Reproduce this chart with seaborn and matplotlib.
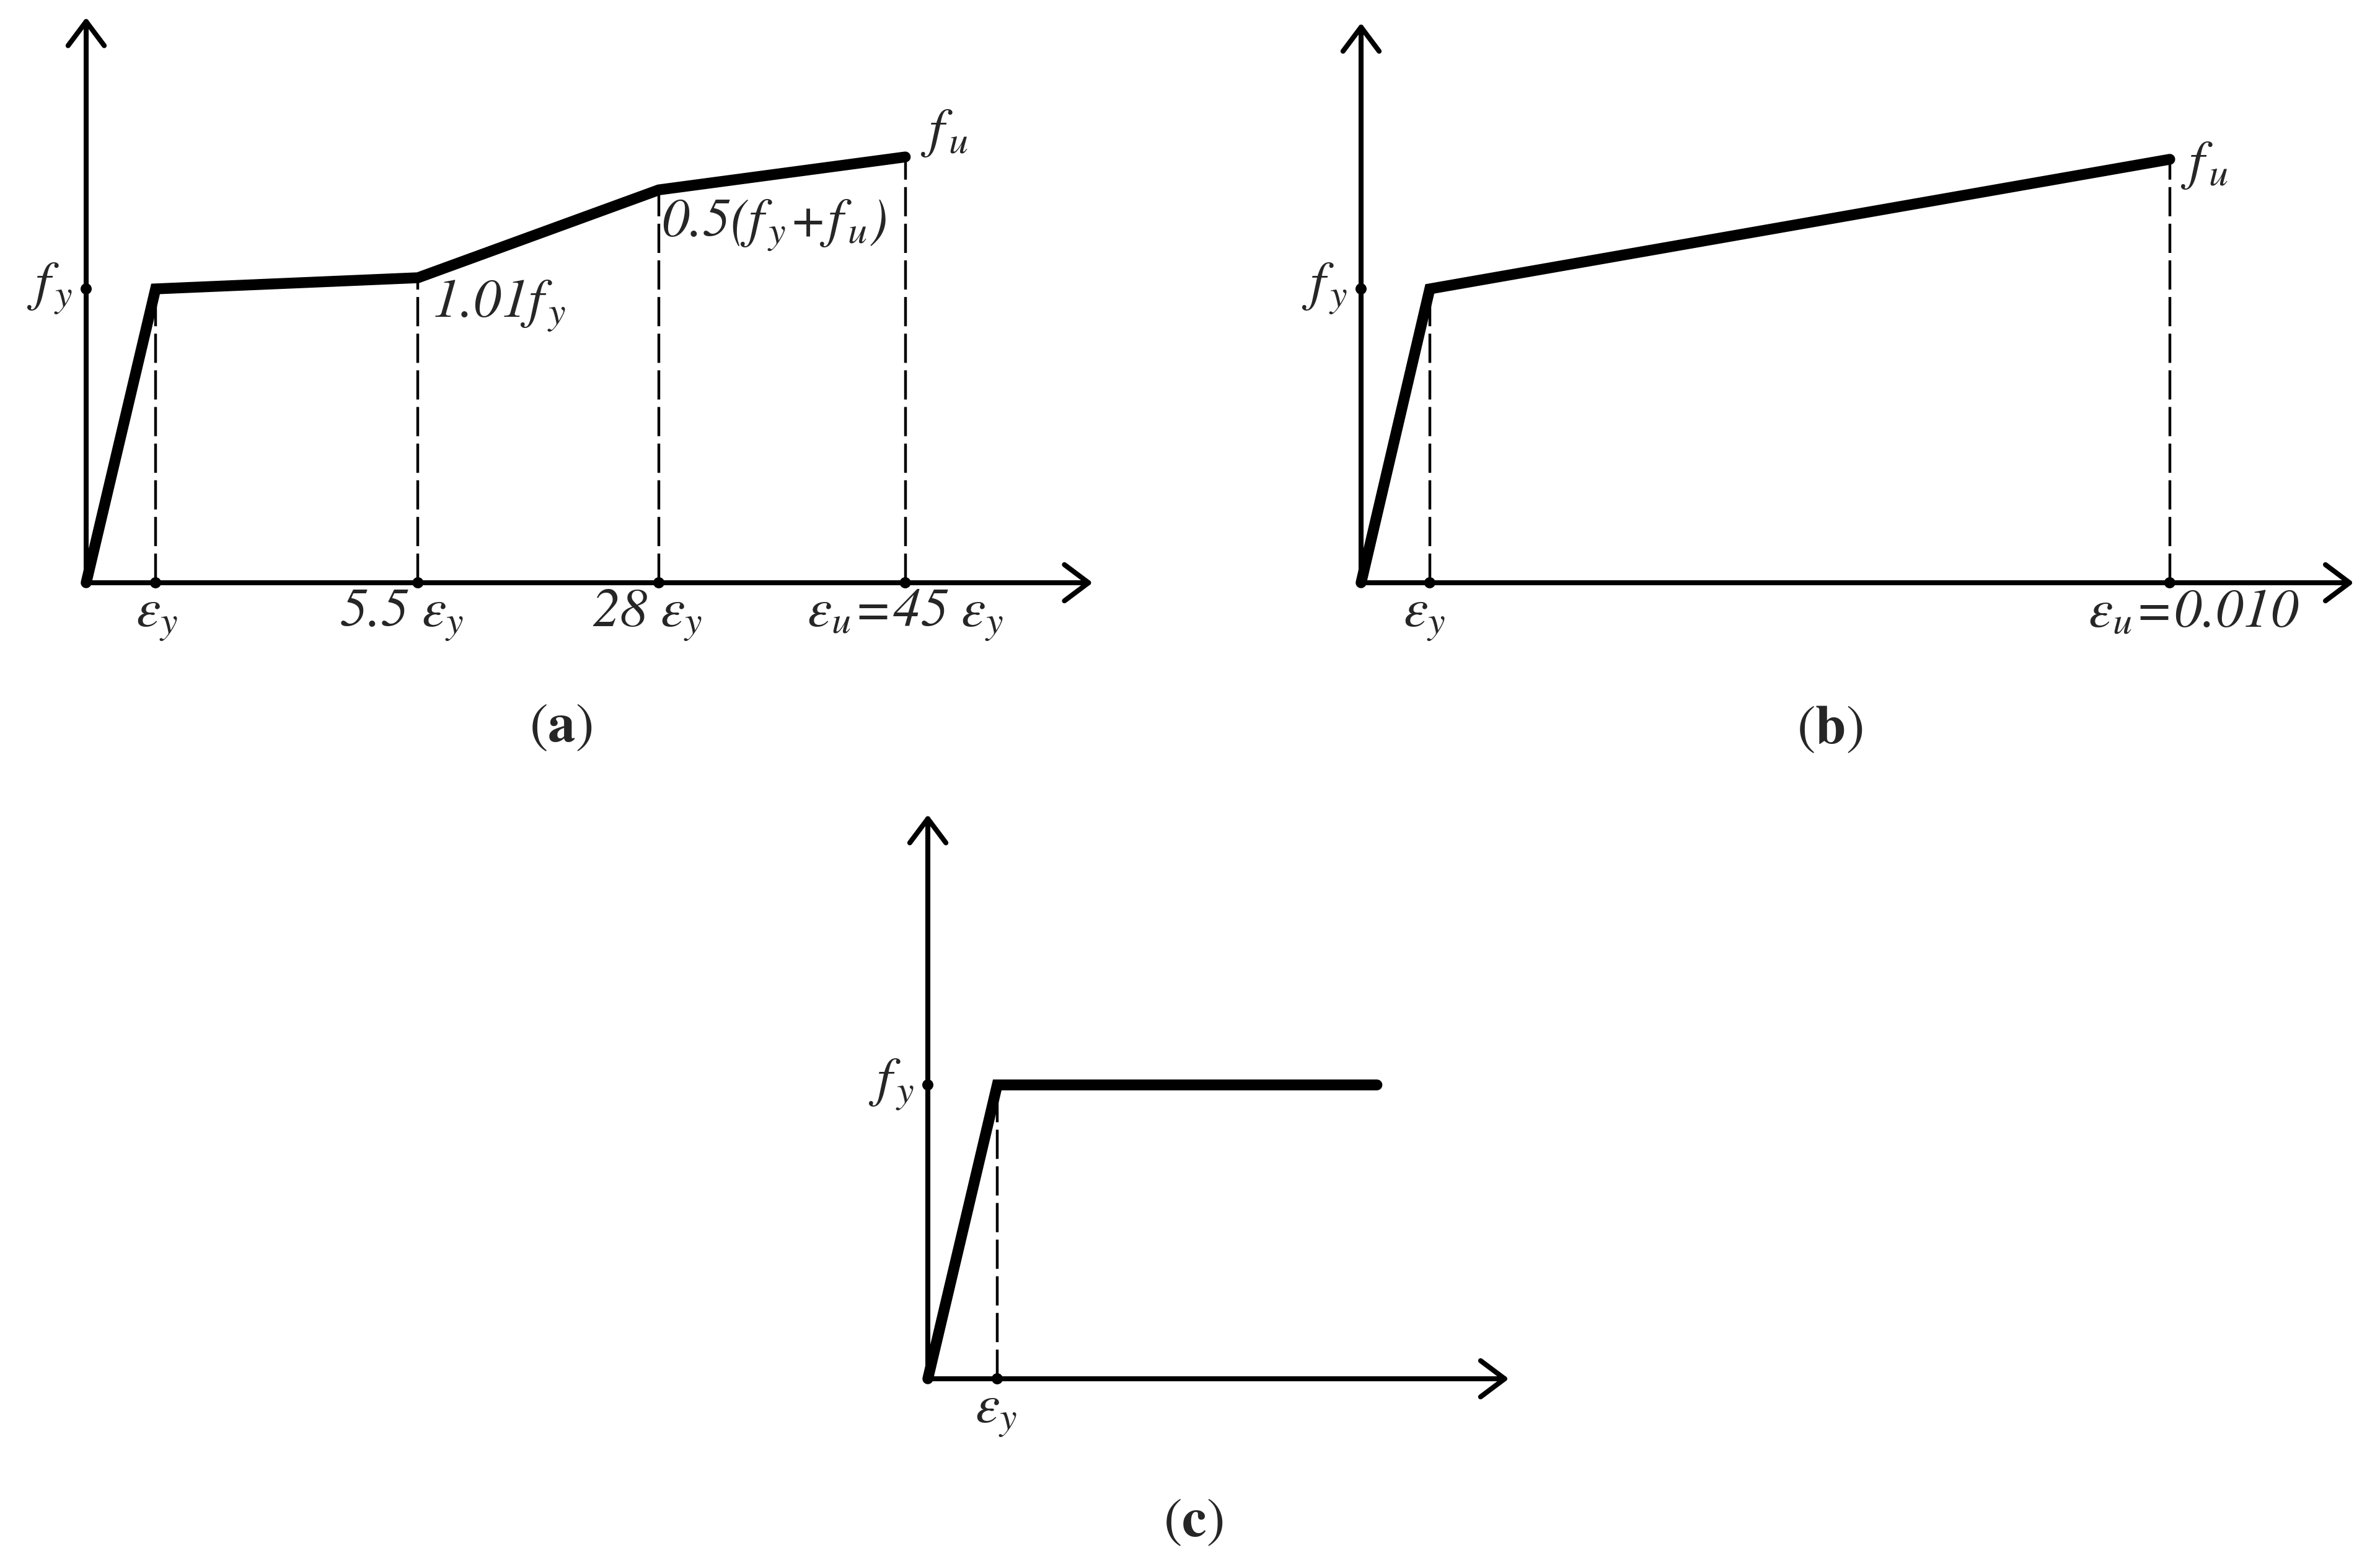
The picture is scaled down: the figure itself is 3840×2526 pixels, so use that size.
import matplotlib
matplotlib.use('Agg')
import matplotlib.pyplot as plt
import seaborn as sns

# schematic coordinates:
# strain in units of the eps_y spacing, stress in units of f_y
strain_a = [0, 1.0, 4.78, 8.25, 11.8]
stress_a = [0, 1.0, 1.038, 1.337, 1.449]
xlabels_a = [r'$\varepsilon_y$', r'$5.5\ \varepsilon_y$', r'$28\ \varepsilon_y$',
             r'$\varepsilon_u\!=\!45\ \varepsilon_y$']
ptlabels_a = [r'$1.01f_{\,y}$', r'$0.5(f_{\,y}\!+\!f_{\,u})$', r'$f_{\,u}$']

strain_b = [0, 0.99, 11.65]
stress_b = [0, 1.0, 1.441]
xlabels_b = [r'$\varepsilon_y$', r'$\varepsilon_u\!=\!0.010$']
ptlabels_b = [r'$f_{\,u}$']

strain_c = [0, 1.0, 6.47]
stress_c = [0, 1.0, 1.0]
xlabels_c = [r'$\varepsilon_y$']

ylabel = r'$f_{\,y}$'
panel_tags = ['a', 'b', 'c']

sns.set_style('white')
plt.rcParams['font.family'] = ['STIXGeneral', 'Liberation Serif', 'DejaVu Serif']
plt.rcParams['mathtext.fontset'] = 'custom'
plt.rcParams['mathtext.it'] = 'STIXGeneral:italic'
plt.rcParams['mathtext.rm'] = 'STIXGeneral:italic'
plt.rcParams['mathtext.bf'] = 'STIXGeneral:bold'

W, H, DPI = 3841, 2526, 200
SX, SY = 112, 474  # pixels per unit
FS = 32

fig = plt.figure(figsize=(W / DPI, H / DPI), dpi=DPI)


def panel_axes(ox, oy, xlim, ylim):
    left = (ox + xlim[0] * SX) / W
    bottom = (H - oy + ylim[0] * SY) / H
    ax = fig.add_axes([left, bottom, (xlim[1] - xlim[0]) * SX / W,
                       (ylim[1] - ylim[0]) * SY / H])
    ax.set_xlim(*xlim)
    ax.set_ylim(*ylim)
    ax.axis('off')
    return ax


def draw_panel(ax, strain, stress, marked, x_end, y_end):
    arrow = dict(arrowstyle='->,head_length=14,head_width=10.5', lw=2.9,
                 color='black', mutation_scale=1, shrinkA=0, shrinkB=0,
                 capstyle='round', joinstyle='round')
    ax.annotate('', xy=(x_end, 0), xytext=(0, 0), arrowprops=arrow)
    ax.annotate('', xy=(0, y_end), xytext=(0, 0), arrowprops=arrow)
    for i in marked:
        ax.plot([strain[i], strain[i]], [0, stress[i]], color='black', lw=1.6,
                linestyle=(0, (10.6, 2.7)), zorder=1)
    sns.lineplot(x=strain, y=stress, ax=ax, color='black', lw=6.3,
                 sort=False, estimator=None, zorder=3,
                 solid_capstyle='round', solid_joinstyle='miter')
    ticks = [strain[i] for i in marked]
    sns.scatterplot(x=ticks, y=[0] * len(ticks), ax=ax, color='black',
                    s=42, edgecolor='none', zorder=4)
    sns.scatterplot(x=[0], y=[1.0], ax=ax, color='black', s=42,
                    edgecolor='none', zorder=4)
    ax.text(-0.2, 1.0, ylabel, ha='right', va='center', fontsize=FS)


# panel (a)
ax_a = panel_axes(139, 940, (-1.3, 15.0), (-0.3, 2.0))
draw_panel(ax_a, strain_a, stress_a, [1, 2, 3, 4], 14.5, 1.924)
for x, lab, dx in zip(strain_a[1:], xlabels_a, [0.02, -0.23, -0.17, 0.0]):
    ax_a.text(x + dx, -0.15, lab, ha='center', va='baseline', fontsize=FS)
for (x, y), lab, (dx, ty) in zip(zip(strain_a[2:], stress_a[2:]), ptlabels_a,
                                 [(0.2, 0.94), (0.04, 1.215), (0.22, 1.53)]):
    ax_a.text(x + dx, ty, lab, ha='left', va='center', fontsize=FS)

# panel (b)
ax_b = panel_axes(2196, 940, (-1.3, 15.0), (-0.3, 2.0))
draw_panel(ax_b, strain_b, stress_b, [1, 2], 14.3, 1.905)
for x, lab, dx in zip(strain_b[1:], xlabels_b, [-0.08, 0.34]):
    ax_b.text(x + dx, -0.15, lab, ha='center', va='baseline', fontsize=FS)
ax_b.text(strain_b[-1] + 0.15, 1.42, ptlabels_b[0], ha='left', va='center',
          fontsize=FS)

# panel (c)
ax_c = panel_axes(1497, 2224, (-1.3, 9.0), (-0.3, 2.0))
draw_panel(ax_c, strain_c, stress_c, [1], 8.37, 1.92)
ax_c.text(strain_c[1] - 0.02, -0.15, xlabels_c[0], ha='center',
          va='baseline', fontsize=FS)

for tag, (px, py) in zip(panel_tags, [(905, 1175), (2952, 1178), (1925, 2457)]):
    fig.text(px / W, 1 - py / H, '($\\mathbf{' + tag + '}$)', ha='center',
             va='center', fontsize=FS)

fig.savefig('out.png', dpi=DPI, facecolor='white')
